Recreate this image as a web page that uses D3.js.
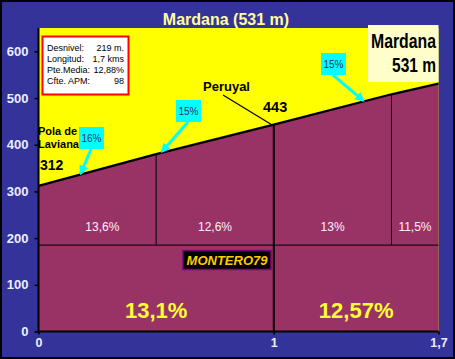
<!DOCTYPE html>
<html><head><meta charset="utf-8">
<script src="https://cdn.jsdelivr.net/npm/d3@7"></script>
<style>
html,body{margin:0;padding:0;background:#333399;}
svg{display:block;}
text{font-family:"Liberation Sans",Arial,sans-serif;}
</style></head>
<body>
<script>
// ---- data ----
const title = "Mardana (531 m)";
const distances = [0, 0.5, 1, 1.5, 1.7];
const elevations = [312, 380, 443, 508, 531];
const segmentGrades = ["13,6%", "12,6%", "13%", "11,5%"];
const halfBreaks = [0, 1, 1.7];
const halfGrades = ["13,1%", "12,57%"];
const yTicks = [0, 100, 200, 300, 400, 500, 600];
const xTicks = [0, 1, 1.7];
const xTickLabels = ["0", "1", "1,7"];
const dividerElev = 185;
const rampKm = [0.18, 0.525, 1.38];
const rampGrades = ["16%", "15%", "15%"];
const infoLabels = ["Desnivel:", "Longitud:", "Pte.Media:", "Cfte. APM:"];
const infoValues = ["219 m.", "1,7 kms", "12,88%", "98"];

const W = 455, H = 359;
const svg = d3.select("body").append("svg").attr("width", W).attr("height", H);
svg.append("rect").attr("x",1).attr("y",1).attr("width",W-2).attr("height",H-2)
  .attr("fill","#333399").attr("stroke","#000").attr("stroke-width",2);

const x = d3.scaleLinear().domain([0, 1.7]).range([38.5, 438.5]);
const y = d3.scaleLinear().domain([0, 650]).range([331.5, 28]);
const pts = distances.map((d,i)=>[d, elevations[i]]);
const elevAt = km => {
  for (let i=0;i<distances.length-1;i++){
    if (km>=distances[i] && km<=distances[i+1]){
      const t=(km-distances[i])/(distances[i+1]-distances[i]);
      return elevations[i]+t*(elevations[i+1]-elevations[i]);
    }
  }
  return elevations[elevations.length-1];
};

// title
svg.append("text").attr("x",226).attr("y",25).attr("text-anchor","middle")
  .attr("font-size",16).attr("font-weight","bold").attr("fill","#FFFF99").text(title);

// plot background
svg.append("rect").attr("x",x(0)).attr("y",y(650)).attr("width",x(1.7)-x(0)).attr("height",y(0)-y(650))
  .attr("fill","#FFFF00");

// area
const area = d3.area().x(d=>x(d[0])).y0(y(0)).y1(d=>y(d[1]));
svg.append("path").datum(pts).attr("d",area).attr("fill","#993366");

// divider
svg.append("line").attr("x1",x(0)).attr("x2",x(1.7)).attr("y1",y(dividerElev)).attr("y2",y(dividerElev))
  .attr("stroke","#000").attr("stroke-width",1);

// segment verticals
distances.slice(1,-1).forEach(d=>{
  const major = halfBreaks.includes(d);
  svg.append("line").attr("x1",x(d)).attr("x2",x(d))
    .attr("y1",y(elevAt(d))).attr("y2", major ? y(0) : y(dividerElev))
    .attr("stroke","#000").attr("stroke-width", major ? 2 : 1);
});

// profile line
svg.append("path").datum(pts).attr("d",d3.line().x(d=>x(d[0])).y(d=>y(d[1])))
  .attr("fill","none").attr("stroke","#000").attr("stroke-width",2.2);

// segment labels
segmentGrades.forEach((g,i)=>{
  svg.append("text").attr("x",(x(distances[i])+x(distances[i+1]))/2 + (i===0?5:0)).attr("y",y(dividerElev)-14)
    .attr("text-anchor","middle").attr("font-size",12).attr("fill","#FFF0FF").text(g);
});
// half labels
halfGrades.forEach((g,i)=>{
  svg.append("text").attr("x",(x(halfBreaks[i])+x(halfBreaks[i+1]))/2).attr("y",y(0)-14)
    .attr("text-anchor","middle").attr("font-size",22).attr("font-weight","bold").attr("fill","#FFFF33").text(g);
});

// axes
const yAxis = svg.append("g").attr("transform",`translate(${x(0)},0)`)
  .call(d3.axisLeft(y).tickValues(yTicks).tickSize(4).tickPadding(6));
const xAxis = svg.append("g").attr("transform",`translate(0,${y(0)})`)
  .call(d3.axisBottom(x).tickValues(xTicks).tickFormat((d,i)=>xTickLabels[i]).tickSize(3).tickPadding(4));
[yAxis,xAxis].forEach(a=>{
  a.select(".domain").remove();
  a.selectAll("line").attr("stroke","#000").attr("stroke-width",1.5);
  a.selectAll("text").attr("font-size",13).attr("font-weight","bold").attr("fill","#EEEEFF")
    .attr("font-family","'Liberation Sans',Arial,sans-serif");
});
xAxis.selectAll("text").attr("font-size",12.5);
svg.append("line").attr("x1",x(0)).attr("x2",x(0)).attr("y1",y(650)).attr("y2",y(0)+1)
  .attr("stroke","#000").attr("stroke-width",2);
svg.append("line").attr("x1",x(0)-1).attr("x2",x(1.7)).attr("y1",y(0)).attr("y2",y(0))
  .attr("stroke","#000").attr("stroke-width",2);

// info box
const ib = svg.append("g");
ib.append("rect").attr("x",42.5).attr("y",36.5).attr("width",86).attr("height",58)
  .attr("fill","#fff").attr("stroke","#FF0000").attr("stroke-width",2);
infoLabels.forEach((l,i)=>{
  ib.append("text").attr("x",47).attr("y",51+i*11).attr("font-size",9).attr("fill","#000").text(l);
  ib.append("text").attr("x",124).attr("y",51+i*11).attr("font-size",9).attr("fill","#000")
    .attr("text-anchor","end").text(infoValues[i]);
});

// summit box
const last = elevations.length-1;
svg.append("rect").attr("x",368).attr("y",25).attr("width",x(1.7)-368).attr("height",57).attr("fill","#FFFFCC");
svg.append("text").attr("x",436).attr("y",48).attr("text-anchor","end").attr("font-size",20).attr("font-weight","bold")
  .attr("textLength",65).attr("lengthAdjust","spacingAndGlyphs").attr("fill","#000").text("Mardana");
svg.append("text").attr("x",436).attr("y",72).attr("text-anchor","end").attr("font-size",20).attr("font-weight","bold")
  .attr("textLength",44).attr("lengthAdjust","spacingAndGlyphs").attr("fill","#000").text(elevations[last]+" m");

// start labels
svg.append("text").attr("x",38).attr("y",135).attr("font-size",11).attr("font-weight","bold").text("Pola de");
svg.append("text").attr("x",38).attr("y",148).attr("font-size",11).attr("font-weight","bold").text("Laviana");
svg.append("text").attr("x",40).attr("y",170).attr("font-size",14).attr("font-weight","bold").text(elevations[0]);

// Peruyal
svg.append("text").attr("x",203).attr("y",91).attr("font-size",13).attr("font-weight","bold").text("Peruyal");
svg.append("line").attr("x1",223).attr("y1",95).attr("x2",x(1)-2).attr("y2",y(elevAt(1))).attr("stroke","#000").attr("stroke-width",1.2);
svg.append("text").attr("x",263).attr("y",112).attr("font-size",14.5).attr("font-weight","bold").text(elevations[2]);

// ramp callouts
const defs = svg.append("defs");
defs.append("marker").attr("id","ah").attr("viewBox","0 0 10 10").attr("refX",8).attr("refY",5)
  .attr("markerWidth",3.2).attr("markerHeight",3.2).attr("orient","auto")
  .append("path").attr("d","M0,0L10,5L0,10z").attr("fill","#00FFFF");
const boxes = [[79,127],[176,100],[321,53]];
rampGrades.forEach((g,i)=>{
  const [bx,by]=boxes[i];
  svg.append("line").attr("x1",bx+12).attr("y1",by+22).attr("x2",x(rampKm[i])).attr("y2",y(elevAt(rampKm[i]))-1)
    .attr("stroke","#00FFFF").attr("stroke-width",3).attr("marker-end","url(#ah)");
  svg.append("rect").attr("x",bx).attr("y",by).attr("width",25).attr("height",22).attr("fill","#00FFFF");
  svg.append("text").attr("x",bx+12.5).attr("y",by+14.5).attr("text-anchor","middle").attr("font-size",10)
    .attr("fill","#23365a").text(g);
});

// watermark
svg.append("rect").attr("x",183).attr("y",250.5).attr("width",88).attr("height",19)
  .attr("fill","#000").attr("stroke","#800080").attr("stroke-width",1.5);
svg.append("text").attr("x",227).attr("y",265).attr("text-anchor","middle").attr("font-size",13)
  .attr("font-style","italic").attr("font-weight","bold").attr("fill","#FFCC00").text("MONTERO79");
</script>
</body></html>
